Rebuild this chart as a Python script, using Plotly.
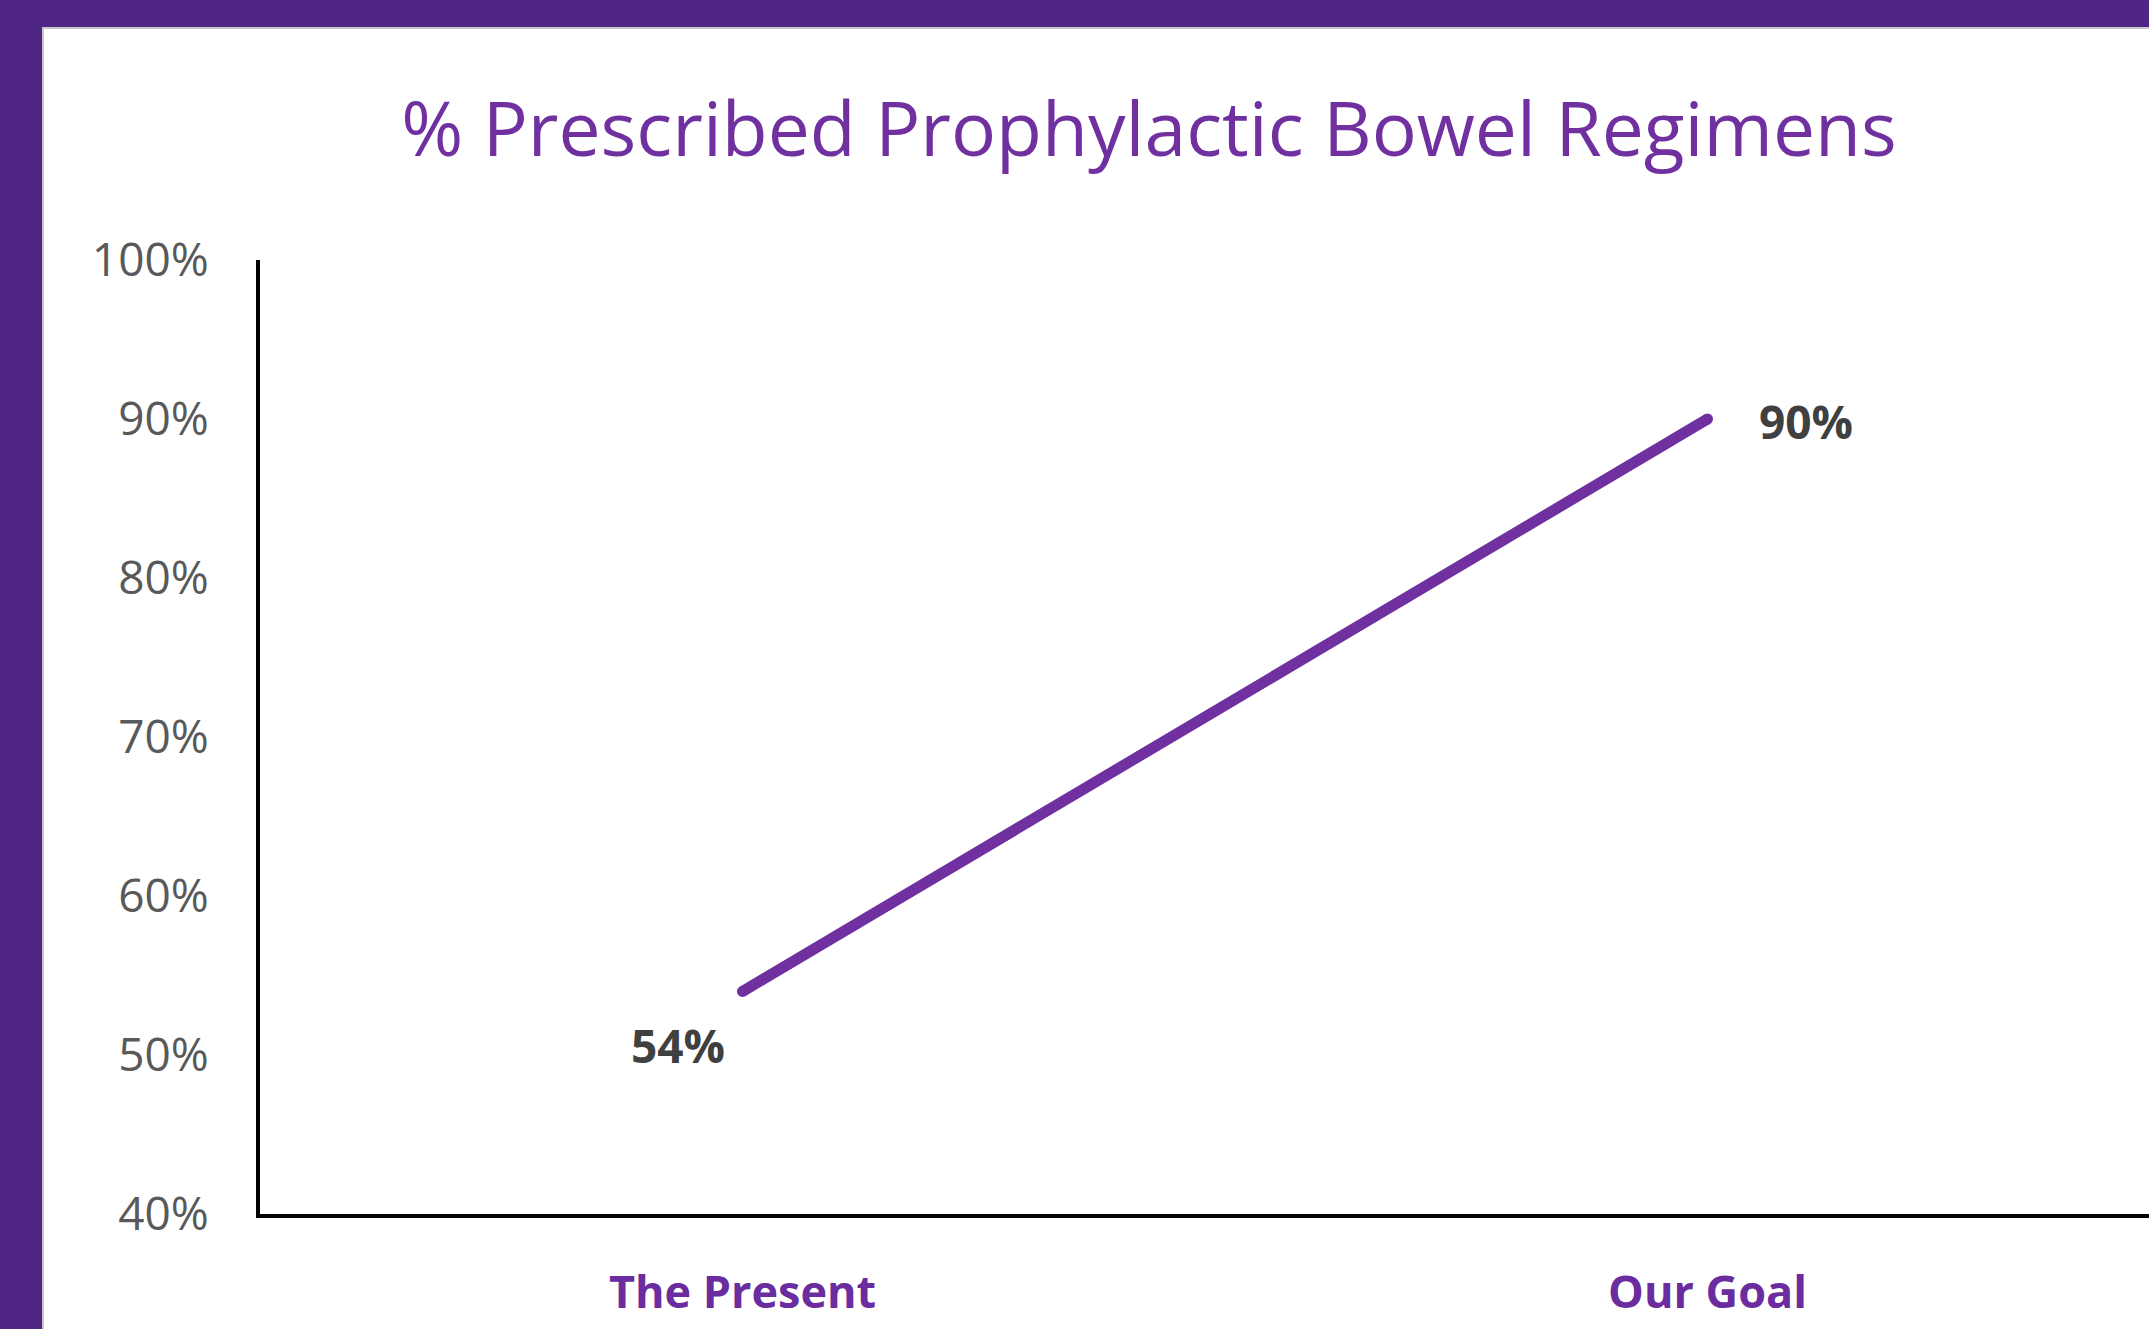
import plotly.graph_objects as go

categories = ["The Present", "Our Goal"]
values = [54, 90]
value_labels = ["54%", "90%"]
y_ticks = [40, 50, 60, 70, 80, 90, 100]
y_tick_labels = ["40%", "50%", "60%", "70%", "80%", "90%", "100%"]
title_text = "% Prescribed Prophylactic Bowel Regimens"

W, H = 2149, 1329
L, R, T, B = 260, 0, 260, 115
pw = W - L - R
ph = H - T - B

PURPLE_BG = "#4F2683"
LINE_COLOR = "#7030A0"
FONT = "'Open Sans', sans-serif"

fig = go.Figure()
fig.add_trace(go.Scatter(
    x=[0, 1], y=values, mode="lines+markers",
    line=dict(color=LINE_COLOR, width=11),
    marker=dict(color=LINE_COLOR, size=11, line=dict(width=0)),
    hoverinfo="skip", showlegend=False,
))

def px_to_paper_x(px):
    return (px - L) / pw

def py_to_paper_y(py):
    return (H - B - py) / ph

# white panel
fig.add_shape(type="rect", xref="paper", yref="paper",
              x0=px_to_paper_x(43), x1=px_to_paper_x(W + 10),
              y0=py_to_paper_y(H + 10), y1=py_to_paper_y(28),
              fillcolor="white", line=dict(color="#C8C8C8", width=2), layer="below")

# data labels
offsets = [(-65, -54), (98, -2)]
for i, (v, lab) in enumerate(zip(values, value_labels)):
    fig.add_annotation(x=i, y=v, text=f"<b>{lab}</b>", showarrow=False,
                       xshift=offsets[i][0], yshift=offsets[i][1],
                       font=dict(family=FONT, size=46, color="#404040"))

fig.update_layout(
    width=W, height=H,
    margin=dict(l=L, r=R, t=T, b=B, pad=0),
    paper_bgcolor=PURPLE_BG,
    plot_bgcolor="rgba(0,0,0,0)",
    title=dict(text=title_text, x=1149 / W, xref="container", xanchor="center",
               y=1 - 130 / H, yref="container", yanchor="middle",
               font=dict(family=FONT, size=75, color="#7030A0")),
    xaxis=dict(
        range=[-0.5, -0.5 + pw / 965.0],
        tickmode="array", tickvals=[0, 1],
        ticktext=[f"<b>{c}</b>" for c in categories],
        tickfont=dict(family=FONT, size=45, color="#6A2C9E"),
        showline=True, linecolor="black", linewidth=4,
        showgrid=False, zeroline=False, ticks="", ticklabelstandoff=36,
        fixedrange=True,
    ),
    yaxis=dict(
        range=[40, 100],
        tickmode="array", tickvals=y_ticks, ticktext=y_tick_labels,
        tickfont=dict(family=FONT, size=46, color="#595959"),
        showline=True, linecolor="black", linewidth=4,
        showgrid=False, zeroline=False, ticks="", ticklabelstandoff=38,
        fixedrange=True,
    ),
)

fig.write_html("out.html")
